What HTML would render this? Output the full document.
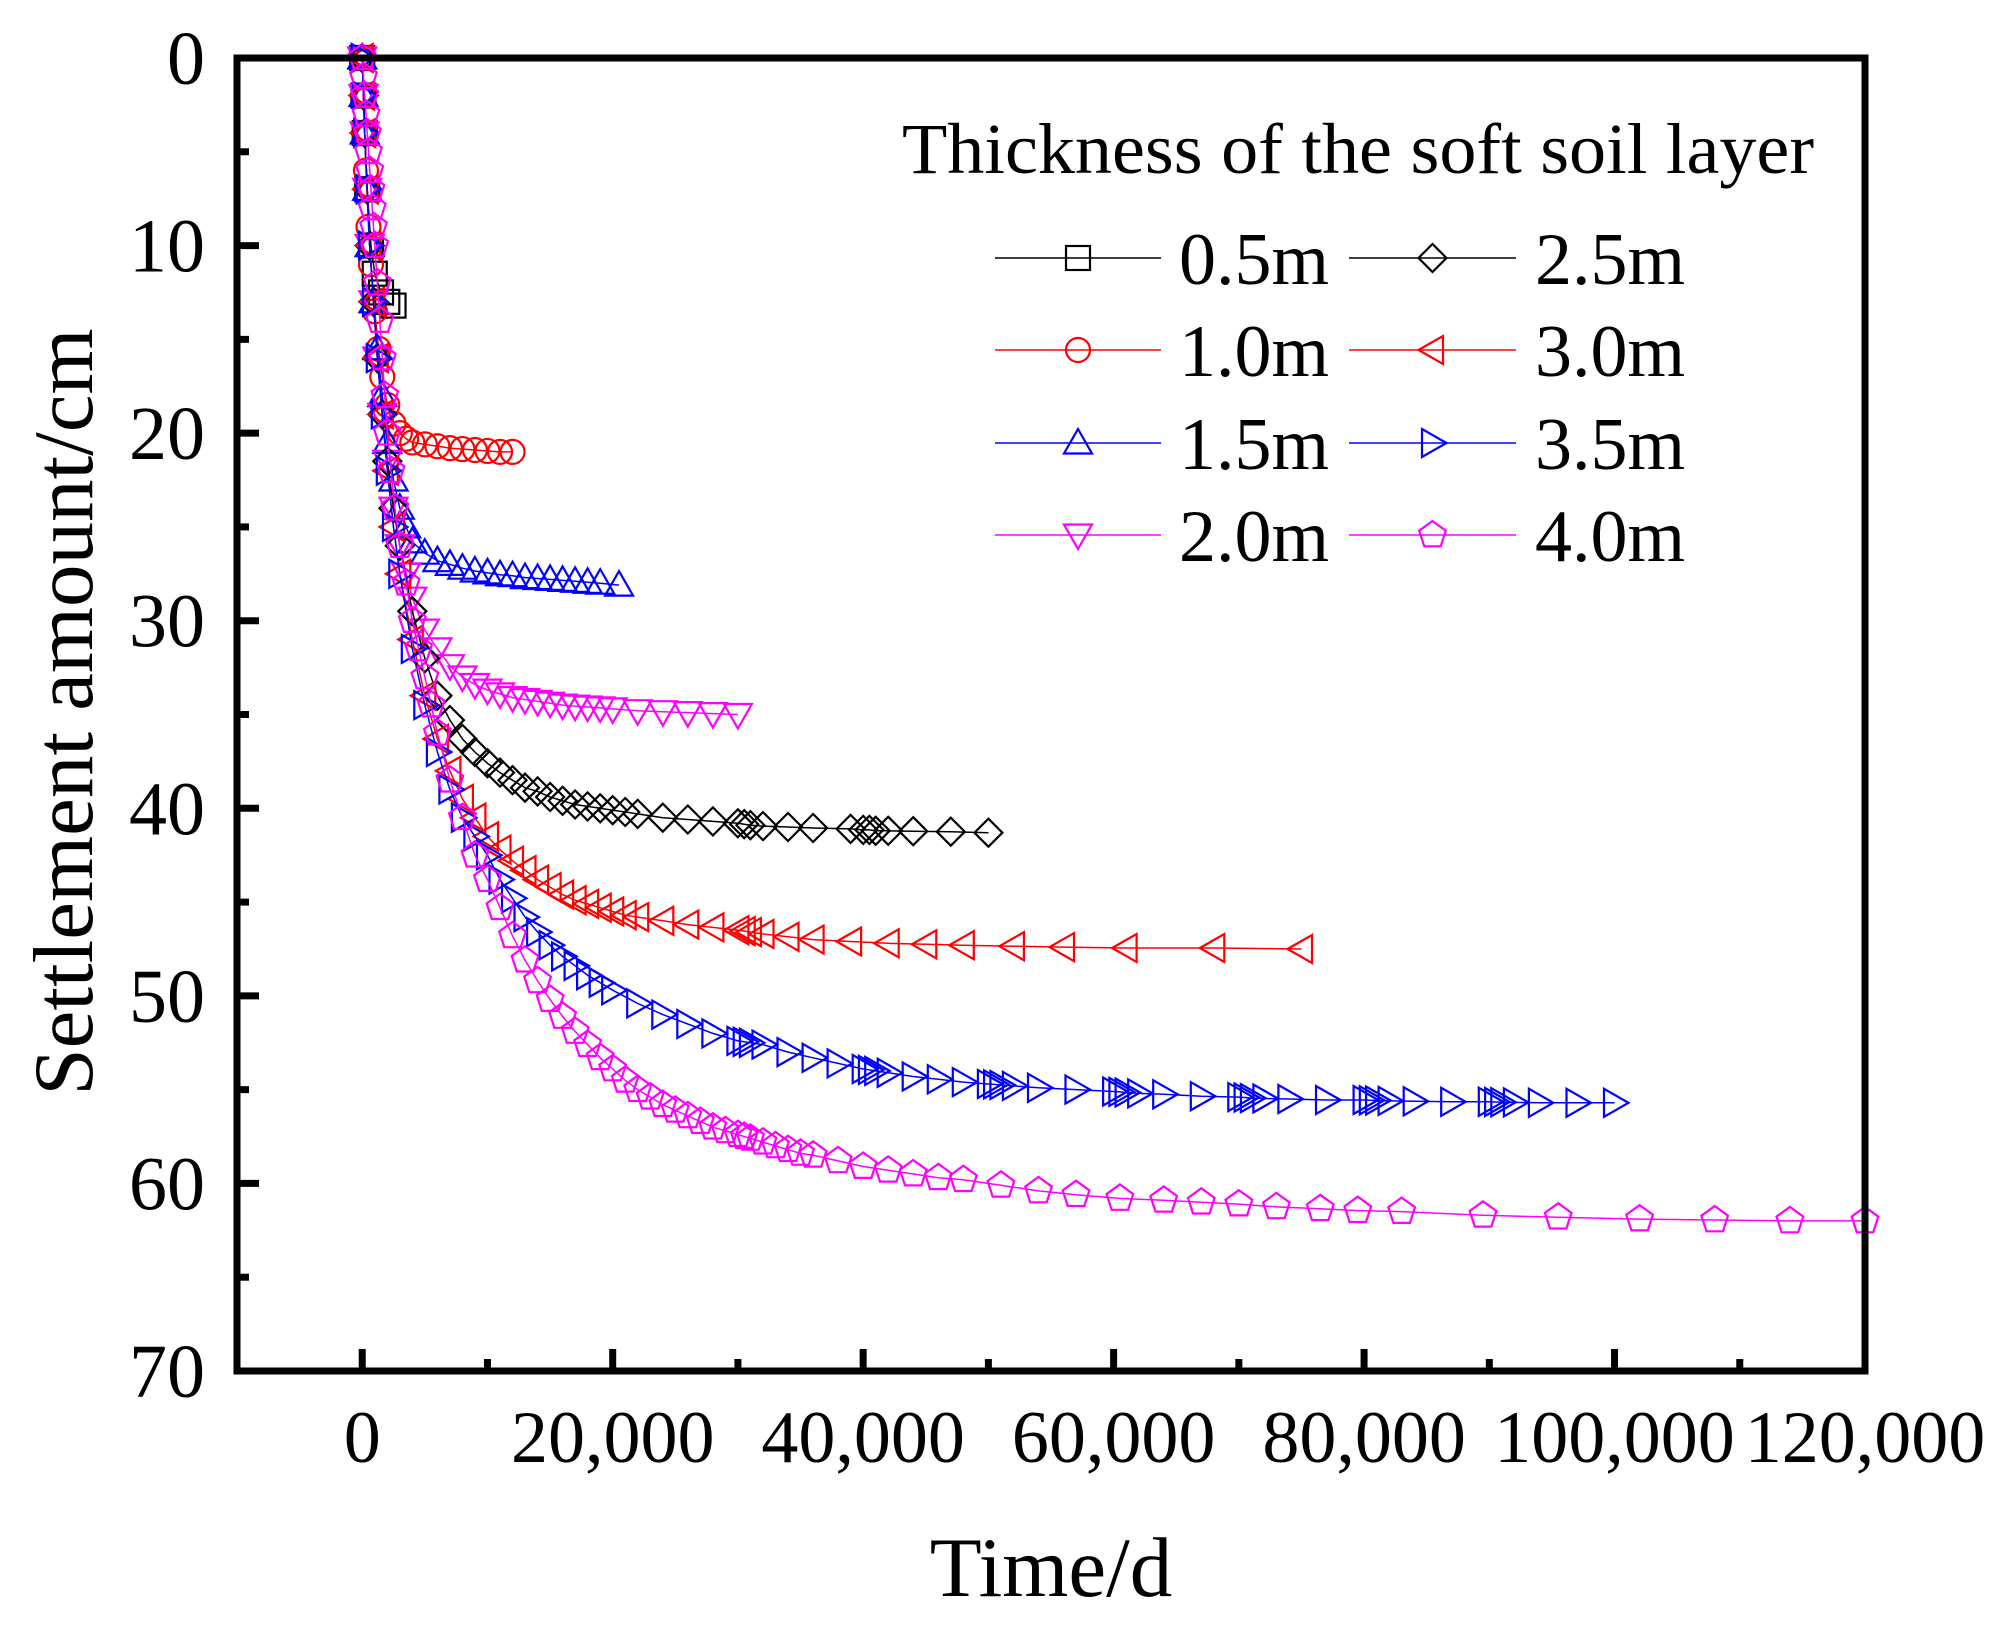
<!DOCTYPE html>
<html><head><meta charset="utf-8"><style>
html,body{margin:0;padding:0;background:#fff;}
svg{display:block;font-family:"Liberation Serif",serif;}
</style></head><body>
<svg id="chart" width="2006" height="1630" viewBox="0 0 2006 1630" xmlns="http://www.w3.org/2000/svg">
<rect x="0" y="0" width="2006" height="1630" fill="#fff"/>
<g id="plot"></g>
<g id="axes"></g>
<g id="legend"></g>
</svg>
<script>
const xTicks = [0, 20000, 40000, 60000, 80000, 100000, 120000];
const xTickLabels = ["0", "20,000", "40,000", "60,000", "80,000", "100,000", "120,000"];
const yTicks = [0, 10, 20, 30, 40, 50, 60, 70];
const yTickLabels = ["0", "10", "20", "30", "40", "50", "60", "70"];
const seriesNames = ["0.5m", "1.0m", "1.5m", "2.0m", "2.5m", "3.0m", "3.5m", "4.0m"];

const t05 = [0,100,200,400,700,1000,1500,2000,2500];
const s05 = [0,2,4,7,10,11.5,12.5,13,13.2];
const t10 = [0,100,200,300,500,700,1000,1300,1600,2000,2500,3000,3500,4000,5000,6000,7000,8000,9000,10000,11000,12000];
const s10 = [0,2,4,6,9,11,13.5,15.5,17,18.5,19.5,20,20.3,20.5,20.6,20.7,20.8,20.85,20.9,20.95,21,21];
const t15 = [0,100,200,400,600,900,1200,1600,2000,2500,3000,3500,4000,5000,6000,7000,8000,9000,10000,11000,12000,13000,14000,15000,16000,17000,18000,19000,20500];
const s15 = [0,2,4,7,10,13,15.5,18,20.5,22.5,24,25,25.8,26.4,26.8,27,27.2,27.35,27.45,27.55,27.6,27.7,27.75,27.8,27.85,27.9,27.95,28,28.1];
const t20 = [0,100,200,400,600,900,1200,1600,2000,2500,3000,3500,4000,5000,6000,7000,8000,9000,10000,11000,12000,13000,14000,15000,16000,17000,18000,19000,20000,22000,24000,26000,28000,30000];
const s20 = [0,2,4,7,10,13,16,19,21.5,24,26,27.5,28.8,30.5,31.5,32.4,33,33.4,33.7,33.9,34.1,34.2,34.3,34.4,34.5,34.55,34.6,34.65,34.7,34.8,34.85,34.9,34.95,35];
const t25 = [0,100,200,400,600,900,1200,1600,2000,2500,3000,4000,5000,6000,7000,8000,9000,10000,11000,12000,13000,14000,15000,16000,17000,18000,19000,20000,21000,22000,24000,26000,28000,30000,30500,31000,32000,34000,36000,39000,40000,40500,41000,42000,44000,47000,50000];
const s25 = [0,2,4,7,10,13,16,19,21.5,24,26,29.5,32,34,35.3,36.3,37,37.6,38.1,38.5,38.9,39.1,39.4,39.6,39.8,39.9,40,40.1,40.2,40.3,40.5,40.6,40.7,40.8,40.85,40.9,40.95,41,41.05,41.1,41.15,41.15,41.2,41.2,41.22,41.25,41.3];
const t30 = [0,100,200,400,600,900,1200,1600,2000,2500,3000,4000,5000,6000,7000,8000,9000,10000,11000,12000,13000,14000,15000,16000,17000,18000,19000,20000,21000,22000,24000,26000,28000,30000,30500,31000,32000,34000,36000,39000,42000,45000,48000,52000,56000,61000,68000,75000];
const s30 = [0,2,4,7,10,13,16,19,22,25,27.5,31,34,36.3,38,39.5,40.5,41.5,42.2,42.8,43.3,43.8,44.2,44.6,44.9,45.1,45.3,45.5,45.7,45.8,46,46.2,46.35,46.5,46.55,46.6,46.7,46.85,47,47.1,47.2,47.25,47.3,47.35,47.4,47.45,47.45,47.5];
const t35 = [0,100,200,400,600,900,1200,1600,2000,2500,3000,4000,5000,6000,7000,8000,9000,10000,11000,12000,13000,14000,15000,16000,17000,18000,19000,20000,22000,24000,26000,28000,30000,30500,31000,32000,34000,36000,38000,40000,40500,41000,42000,44000,46000,48000,50000,50500,51000,52000,54000,57000,60000,60500,61000,62000,64000,67000,70000,70500,71000,72000,74000,77000,80000,80500,81000,82000,84000,87000,90000,90500,91000,92000,94000,97000,100000];
const s35 = [0,2,4,7,10,13,16,19,22,25,27.5,31.5,34.5,37,39,40.5,41.5,42.5,43.8,44.8,45.8,46.6,47.3,47.9,48.4,48.9,49.3,49.7,50.4,51,51.5,52,52.4,52.45,52.5,52.6,53,53.3,53.6,53.9,53.95,54,54.1,54.3,54.45,54.6,54.7,54.72,54.75,54.8,54.9,55,55.1,55.12,55.15,55.2,55.25,55.35,55.4,55.42,55.45,55.47,55.5,55.55,55.55,55.57,55.58,55.6,55.62,55.65,55.65,55.66,55.67,55.68,55.7,55.7,55.7];
const t40 = [0,100,200,300,400,500,600,700,800,900,1000,1200,1400,1600,1800,2000,2300,2600,3000,3500,4000,4500,5000,5500,6000,7000,8000,9000,10000,11000,12000,13000,14000,15000,16000,17000,18000,19000,20000,21000,22000,23000,24000,25000,26000,27000,28000,29000,30000,30500,31000,32000,33000,34000,35000,36000,38000,40000,42000,44000,46000,48000,51000,54000,57000,60500,64000,67000,70000,73000,76500,79500,83000,89500,95500,102000,108000,114000,120000];
const s40 = [0,1,2,3,4,5,6,7,8,9,10,12,14,16,18,20,22,24,26,28,30,31.5,33,34.5,36,38.5,40.5,42.5,43.8,45.3,46.8,48.1,49.2,50.2,51.1,51.9,52.6,53.3,53.9,54.5,55,55.4,55.8,56.1,56.4,56.7,57,57.2,57.4,57.5,57.6,57.8,58,58.2,58.4,58.5,58.8,59.1,59.3,59.5,59.7,59.8,60.1,60.4,60.6,60.8,60.9,61,61.1,61.25,61.35,61.45,61.5,61.7,61.8,61.9,61.95,62,62];

const NS = "http://www.w3.org/2000/svg";
const L = 237, R = 1865, T = 58, B = 1371;
const xMin = -10000, xMax = 120000, yMin = 0, yMax = 70;
function xs(v){ return L + (v - xMin) / (xMax - xMin) * (R - L); }
function ys(v){ return T + (v - yMin) / (yMax - yMin) * (B - T); }
function mk(tag, attrs, parent){ const e = document.createElementNS(NS, tag); for (const k in attrs) e.setAttribute(k, attrs[k]); parent.appendChild(e); return e; }

const series = [
  {t:t05, s:s05, color:"#000000", shape:"square"},
  {t:t10, s:s10, color:"#ff0000", shape:"circle"},
  {t:t15, s:s15, color:"#0000ff", shape:"up"},
  {t:t20, s:s20, color:"#ff00ff", shape:"down"},
  {t:t25, s:s25, color:"#000000", shape:"diamond"},
  {t:t30, s:s30, color:"#ff0000", shape:"left"},
  {t:t35, s:s35, color:"#0000ff", shape:"right"},
  {t:t40, s:s40, color:"#ff00ff", shape:"pentagon"}
];

function marker(parent, shape, cx, cy, color){
  const r = 14; let el;
  const sw = 2.2;
  if (shape === "square") el = mk("rect", {x:cx-r+2, y:cy-r+2, width:2*r-4, height:2*r-4, fill:"none", stroke:color, "stroke-width":sw}, parent);
  else if (shape === "circle") el = mk("circle", {cx:cx, cy:cy, r:r-2, fill:"none", stroke:color, "stroke-width":sw}, parent);
  else {
    let pts;
    if (shape === "up") pts = [[0,-r],[r,r*0.75],[-r,r*0.75]];
    else if (shape === "down") pts = [[0,r],[r,-r*0.75],[-r,-r*0.75]];
    else if (shape === "left") pts = [[-r,0],[r*0.75,-r],[r*0.75,r]];
    else if (shape === "right") pts = [[r,0],[-r*0.75,-r],[-r*0.75,r]];
    else if (shape === "diamond") pts = [[0,-r],[r,0],[0,r],[-r,0]];
    else { pts = []; for (let i=0;i<5;i++){ const a = -Math.PI/2 + i*2*Math.PI/5; pts.push([r*Math.cos(a), r*Math.sin(a)]); } }
    el = mk("polygon", {points: pts.map(p => (cx+p[0]).toFixed(1)+","+(cy+p[1]).toFixed(1)).join(" "), fill:"none", stroke:color, "stroke-width":sw}, parent);
  }
  return el;
}

const plot = document.getElementById("plot");
series.forEach((sr, i) => {
  const g = mk("g", {}, plot);
  
  
  const d = sr.t.map((v, j) => (j ? "L" : "M") + xs(v).toFixed(1) + "," + ys(sr.s[j]).toFixed(1)).join(" ");
  const line = mk("path", {d:d, fill:"none", stroke:sr.color, "stroke-width":1.5}, g);
  
  
  sr.t.forEach((v, j) => {
    const m = marker(g, sr.shape, xs(v), ys(sr.s[j]), sr.color);
    
    
  });
});

const axes = document.getElementById("axes");
const frame = mk("rect", {x:L, y:T, width:R-L, height:B-T, fill:"none", stroke:"#000", "stroke-width":7}, axes);


xTicks.forEach((v, i) => {
  const x = xs(v);
  const tk = mk("line", {x1:x, y1:B, x2:x, y2:B-22, stroke:"#000", "stroke-width":7}, axes);
  
  
  const mx = xs(v + 10000);
  if (v + 10000 < xMax) { const mt = mk("line", {x1:mx, y1:B, x2:mx, y2:B-12, stroke:"#000", "stroke-width":7}, axes);   }
  const lb = mk("text", {x:x, y:1462, "font-size":74, "text-anchor":"middle", fill:"#000"}, axes);
  lb.textContent = xTickLabels[i];
  
  
});
yTicks.forEach((v, i) => {
  const y = ys(v);
  const tk = mk("line", {x1:L, y1:y, x2:L+22, y2:y, stroke:"#000", "stroke-width":7}, axes);
  
  
  if (v + 5 < yMax) { const my = ys(v + 5); const mt = mk("line", {x1:L, y1:my, x2:L+12, y2:my, stroke:"#000", "stroke-width":7}, axes);   }
  const lb = mk("text", {x:205, y:y+26, "font-size":76, "text-anchor":"end", fill:"#000"}, axes);
  lb.textContent = yTickLabels[i];
  
  
});
const xt = mk("text", {x:1051, y:1596, "font-size":85, "text-anchor":"middle", fill:"#000"}, axes);
xt.textContent = "Time/d";


const yt = mk("text", {x:0, y:0, "font-size":85, "text-anchor":"middle", fill:"#000", transform:"translate(92,712) rotate(-90)"}, axes);
yt.textContent = "Settlement amount/cm";



const legend = document.getElementById("legend");
const lt = mk("text", {x:902, y:173, "font-size":72, textLength:912, lengthAdjust:"spacingAndGlyphs", fill:"#000"}, legend);
lt.textContent = "Thickness of the soft soil layer";


const rowsY = [258, 350, 443, 535];
series.forEach((sr, i) => {
  const col = i < 4 ? 0 : 1, row = i % 4;
  const x0 = col ? 1349 : 995, x1 = col ? 1516 : 1161, mxp = (x0 + x1) / 2, tx = col ? 1535 : 1179;
  const y = rowsY[row];
  const g = mk("g", {}, legend);
  
  
  mk("line", {x1:x0, y1:y, x2:x1, y2:y, stroke:sr.color, "stroke-width":1.5}, g);
  marker(g, sr.shape, mxp, y, sr.color);
  const tt = mk("text", {x:tx, y:y+26, "font-size":74, fill:"#000"}, g);
  tt.textContent = seriesNames[i];
  
  
});
</script>
</body></html>
